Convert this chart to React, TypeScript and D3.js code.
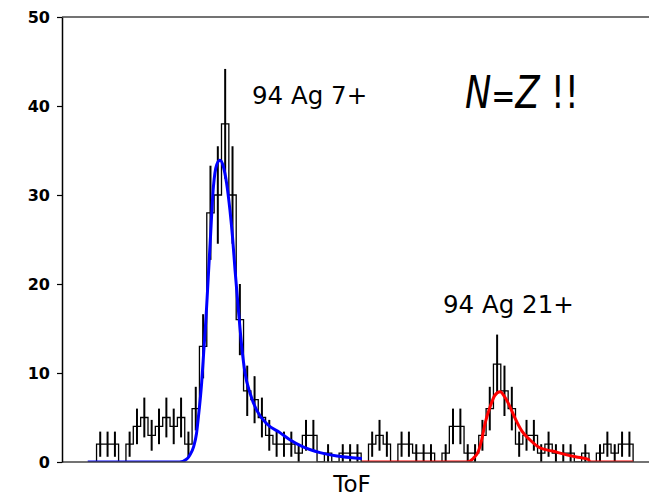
import React, { useRef, useEffect } from 'react';
import * as d3 from 'd3';

const W = 649;
const H = 498;

// histogram counts, unit wide bins starting at HIST_START (ToF channels)
const HIST_START = 4.7;
const counts = [
  2, 2, 2, 0, 2, 4, 5, 3, 4, 5,
  4, 5, 2, 6, 13, 28, 30, 38, 30, 16,
  8, 7, 5, 3, 2, 2, 2, 1, 3, 3,
  0, 1, 0, 1, 1, 1, 0, 2, 3, 2,
  0, 2, 2, 1, 1, 1, 0, 1, 4, 4,
  1, 1, 3, 6, 11, 8, 6, 2, 3, 3,
  1, 2, 1, 1, 1, 0, 1, 0, 1, 2,
  1, 2, 2,
];

// fit for 94Ag 7+ (blue)
const blueX = [3.5, 16.0, 17.0, 17.4, 17.9, 18.3, 18.55, 19.0, 19.3, 19.6, 19.9, 20.15, 20.6, 21.05, 21.5, 21.95, 22.4, 22.85, 23.2, 23.55, 24.0, 24.45, 24.9, 25.6, 26.5, 27.85, 29.65, 31.0, 32.8, 35.1, 37.4, 39.2, 40.8];
const blueY = [0, 0, 0.35, 0.8, 1.7, 3.2, 5.0, 8.9, 12.6, 16.3, 20.8, 24.5, 30.9, 33.4, 33.9, 33.2, 31.3, 28.3, 25.3, 21.5, 17.1, 13.0, 10.0, 7.7, 5.8, 4.3, 3.3, 2.5, 1.7, 1.05, 0.67, 0.5, 0.4];

// fit for 94Ag 21+ (red)
const redX = [40.8, 55.05, 55.95, 56.65, 57.1, 57.55, 58.25, 58.9, 59.6, 60.25, 60.95, 61.65, 62.55, 63.65, 65.0, 66.85, 68.65, 70.5, 71.6, 71.85, 77.7];
const redY = [0, 0, 0.4, 1.2, 2.5, 4.3, 6.2, 7.5, 7.9, 7.3, 6.2, 4.9, 3.5, 2.5, 1.6, 1.2, 0.8, 0.5, 0.3, 0, 0];

const yTicks = [0, 10, 20, 30, 40, 50];

const Chart = () => {
  const ref = useRef<SVGSVGElement>(null);

  useEffect(() => {
    const svg = d3.select(ref.current);
    svg.selectAll('*').remove();

    const x = d3.scaleLinear().domain([0, 80]).range([62, 650]);
    const y = d3.scaleLinear().domain([0, 50]).range([462, 17]);

    svg.append('clipPath').attr('id', 'plot-clip')
      .append('rect')
      .attr('x', x(0)).attr('y', y(50))
      .attr('width', x(80) - x(0)).attr('height', y(0) - y(50));

    const plot = svg.append('g').attr('clip-path', 'url(#plot-clip)');

    // step outline of the histogram
    const n = counts.length;
    const stepPts: [number, number][] = [[HIST_START, 0]];
    counts.forEach((c, i) => {
      stepPts.push([HIST_START + i, c]);
      stepPts.push([HIST_START + i + 1, c]);
    });
    stepPts.push([HIST_START + n, 0]);

    const line = d3.line<[number, number]>().x(d => x(d[0])).y(d => y(d[1]));

    plot.append('path')
      .attr('d', line(stepPts))
      .attr('fill', 'none')
      .attr('stroke', 'black')
      .attr('stroke-width', 1.3);

    // sqrt(N) error bars
    plot.selectAll('line.err')
      .data(counts.map((c, i) => ({ c, xc: HIST_START + i + 0.5 })).filter(d => d.c > 0))
      .enter().append('line')
        .attr('class', 'err')
        .attr('x1', d => x(d.xc)).attr('x2', d => x(d.xc))
        .attr('y1', d => y(d.c - Math.sqrt(d.c)))
        .attr('y2', d => y(d.c + Math.sqrt(d.c)))
        .attr('stroke', 'black')
        .attr('stroke-width', 2);

    const smooth = d3.line<number>()
      .x(d => x(d))
      .curve(d3.curveMonotoneX);

    plot.append('path')
      .attr('d', smooth.y((d, i) => y(blueY[i]))(blueX))
      .attr('fill', 'none')
      .attr('stroke', '#0000ff')
      .attr('stroke-width', 3);

    plot.append('path')
      .attr('d', smooth.y((d, i) => y(redY[i]))(redX))
      .attr('fill', 'none')
      .attr('stroke', '#ff0000')
      .attr('stroke-width', 3);

    // spines
    svg.append('line')
      .attr('x1', x(0)).attr('x2', x(80)).attr('y1', y(50)).attr('y2', y(50))
      .attr('stroke', '#444').attr('stroke-width', 1.5);
    svg.append('line')
      .attr('x1', x(0)).attr('x2', x(80)).attr('y1', y(0)).attr('y2', y(0))
      .attr('stroke', '#444').attr('stroke-width', 1.6);

    const yAxis = svg.append('g')
      .attr('transform', `translate(${x(0)},0)`)
      .call(d3.axisLeft(y).tickValues(yTicks).tickSize(5).tickPadding(7).tickSizeOuter(0));
    yAxis.select('.domain').attr('stroke', 'black').attr('stroke-width', 1.5);
    yAxis.selectAll('.tick line').attr('stroke', 'black').attr('stroke-width', 1.2);
    yAxis.selectAll('.tick text')
      .attr('font-family', 'DejaVu Sans')
      .attr('font-weight', 'bold')
      .attr('font-size', 16)
      .attr('fill', 'black');

    // labels
    svg.append('text')
      .attr('x', 252).attr('y', 104)
      .attr('font-family', 'DejaVu Sans').attr('font-size', 24.5)
      .text('94 Ag 7+');

    svg.append('text')
      .attr('x', 443).attr('y', 313)
      .attr('font-family', 'DejaVu Sans').attr('font-size', 24.5)
      .text('94 Ag 21+');

    const nz = svg.append('g')
      .attr('transform', 'translate(465,108) scale(0.8,1)')
      .append('text')
        .attr('font-family', 'DejaVu Sans').attr('font-size', 44);
    nz.append('tspan').attr('font-style', 'italic').text('N');
    nz.append('tspan').attr('font-size', 36).text('=');
    nz.append('tspan').attr('font-style', 'italic').text('Z');
    nz.append('tspan').text(' !!');

    svg.append('text')
      .attr('x', 352).attr('y', 492)
      .attr('text-anchor', 'middle')
      .attr('font-family', 'DejaVu Sans').attr('font-size', 23)
      .text('ToF');
  }, []);

  return <svg ref={ref} width={W} height={H} style={{ display: 'block' }}></svg>;
};

export default function App() {
  return (
    <div style={{ position: 'absolute', left: 0, top: 0, width: W, height: H, background: 'white' }}>
      <Chart />
    </div>
  );
}
